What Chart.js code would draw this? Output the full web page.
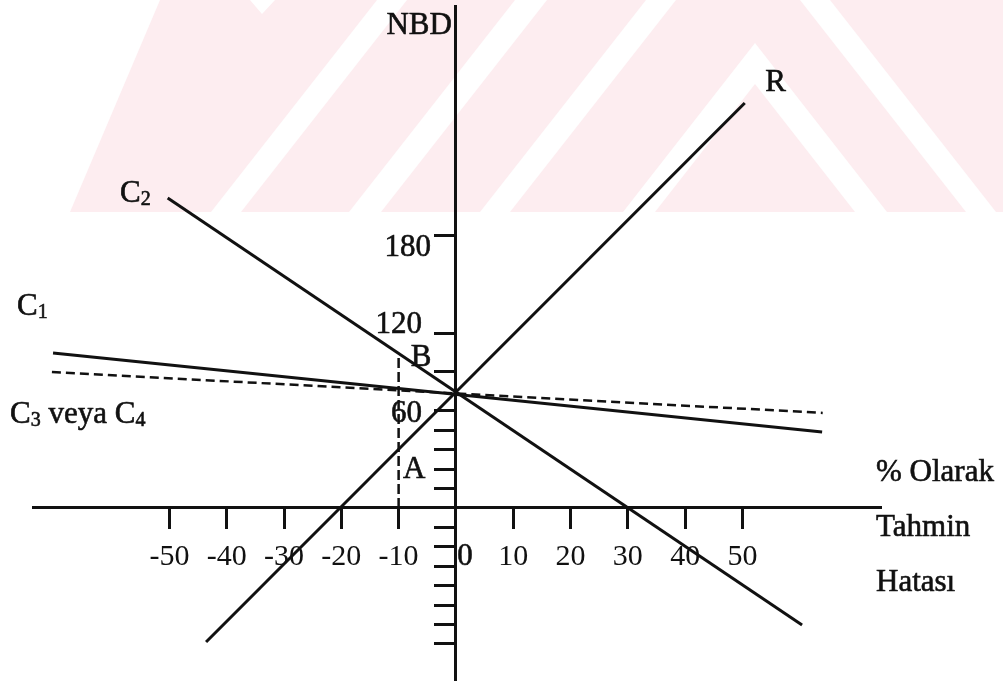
<!DOCTYPE html>
<html>
<head>
<meta charset="utf-8">
<script src="https://cdn.jsdelivr.net/npm/chart.js@4.4.1/dist/chart.umd.min.js"></script>
<style>
html, body { margin: 0; padding: 0; background: #fff; }
#wrap { position: relative; width: 1003px; height: 681px; }
</style>
</head>
<body>
<div id="wrap"><canvas id="chart_nbd"></canvas></div>
<script>
// each line is given by its two end points: x = % tahmin hatası, y = NBD
const rX = [-43.6, 50.4];
const rY = [-88.7, 268.0];
const c2X = [-50.3, 60.4];
const c2Y = [205.2, -77.4];
const c1X = [-70.3, 63.9];
const c1Y = [102.6, 50.3];
const c34X = [-70.5, 64.0];
const c34Y = [90.0, 62.9];
const bX = [-10, -10];
const bY = [0, 102.6];

const xTicks = [-50, -40, -30, -20, -10, 0, 10, 20, 30, 40, 50];
// the NBD axis is not to scale: marks every 180/14 units, labels only at 60, 120, 180
const yStep = 180 / 14;
const yTickSteps = [-7, -6, -5, -4, -3, -2, -1, 1, 2, 3, 4, 5, 7, 9, 14];
const yLabels = ['60', '120', '180'];

const ink = '#111';
const serif = '"Liberation Serif", "Times New Roman", serif';

function pts(xs, ys) {
  return xs.map((x, i) => ({ x: x, y: ys[i] }));
}

function line(label, xs, ys, dash, width) {
  return {
    label: label,
    data: pts(xs, ys),
    showLine: true,
    borderColor: ink,
    borderWidth: width || 3,
    borderDash: dash || [],
    borderCapStyle: 'butt',
    pointRadius: 0,
    pointHoverRadius: 0,
    clip: false
  };
}

// annotation texts, placed in data units (+ small pixel nudge)
const notes = [
  { t: 'NBD', x: 0, y: 319, dx: -4, align: 'right' },
  { t: 'R', x: 55.8, y: 281.3, align: 'center' },
  { t: 'C', sub: '2', x: -58.6, y: 207.8 },
  { t: 'C', sub: '1', x: -76.6, y: 133 },
  { t: 'C', sub: '3', more: ' veya C', sub2: '4', x: -77.8, y: 61.5 },
  { t: yLabels[2], x: 0, y: 180, dx: -25, dy: 12, align: 'right' },
  { t: yLabels[1], x: 0, y: 120, dx: -34, dy: -2, align: 'right' },
  { t: yLabels[0], x: 0, y: 60, dx: -34, dy: -3, align: 'right' },
  { t: 'B', x: -6.1, y: 99.3, align: 'center' },
  { t: 'A', x: -7.3, y: 25.1, align: 'center' },
  { t: '0', x: 0, y: 0, dx: 9, dy: 49, align: 'center' },
  { t: '% Olarak', x: 73.3, y: 23.2 },
  { t: 'Tahmin', x: 73.3, y: -13.2 },
  { t: 'Hatası', x: 73.3, y: -49.6 }
];

const paper = {
  id: 'paper',
  beforeDraw: (chart) => {
    const ctx = chart.ctx;
    const w = chart.width;
    ctx.save();
    ctx.fillStyle = '#fff';
    ctx.fillRect(0, 0, w, chart.height);
    // faint watermark band at the top of the scanned page
    ctx.beginPath();
    ctx.rect(0, 0, w, 212);
    ctx.clip();
    ctx.fillStyle = '#fdedf0';
    ctx.beginPath();
    ctx.moveTo(160, 0); ctx.lineTo(w, 0); ctx.lineTo(w, 212); ctx.lineTo(70, 212);
    ctx.closePath();
    ctx.fill();
    ctx.fillStyle = '#fff';
    const slash = [[377, 30], [515, 32], [646, 30]];
    slash.forEach(s => {
      ctx.beginPath();
      ctx.moveTo(s[0], 0); ctx.lineTo(s[0] + s[1], 0);
      ctx.lineTo(s[0] + s[1] - 166, 212); ctx.lineTo(s[0] - 166, 212);
      ctx.closePath();
      ctx.fill();
    });
    ctx.beginPath();
    ctx.moveTo(800, 0); ctx.lineTo(830, 0); ctx.lineTo(996, 212); ctx.lineTo(966, 212);
    ctx.closePath();
    ctx.fill();
    ctx.beginPath();
    ctx.moveTo(755, 43); ctx.lineTo(887, 212); ctx.lineTo(855, 212);
    ctx.lineTo(755, 84); ctx.lineTo(655, 212); ctx.lineTo(623, 212);
    ctx.closePath();
    ctx.fill();
    ctx.beginPath();
    ctx.moveTo(250, 0); ctx.lineTo(275, 0); ctx.lineTo(262, 14);
    ctx.closePath();
    ctx.fill();
    ctx.restore();
  }
};

const labels = {
  id: 'labels',
  afterDraw: (chart) => {
    const ctx = chart.ctx;
    const xs = chart.scales.x;
    const ys = chart.scales.y;
    ctx.save();
    ctx.fillStyle = ink;
    ctx.strokeStyle = ink;
    ctx.lineWidth = 0.6;
    ctx.textBaseline = 'middle';
    const put = (s, x, y) => {
      ctx.fillText(s, x, y);
      ctx.strokeText(s, x, y);
    };
    notes.forEach(n => {
      let px = xs.getPixelForValue(n.x) + (n.dx || 0);
      const py = ys.getPixelForValue(n.y) + (n.dy || 0);
      ctx.font = '31px ' + serif;
      if (!n.sub) {
        ctx.textAlign = n.align || 'left';
        put(n.t, px, py);
        return;
      }
      ctx.textAlign = 'left';
      const parts = [[n.t, false], [n.sub, true]];
      if (n.more) {
        parts.push([n.more, false], [n.sub2, true]);
      }
      parts.forEach(p => {
        ctx.font = (p[1] ? '20px ' : '31px ') + serif;
        put(p[0], px, py + (p[1] ? 6 : 0));
        px += ctx.measureText(p[0]).width;
      });
    });
    ctx.restore();
  }
};

const chart_nbd = new Chart(document.getElementById('chart_nbd'), {
  type: 'scatter',
  data: {
    datasets: [
      line('R', rX, rY),
      line('C2', c2X, c2Y),
      line('C1', c1X, c1Y),
      line('C3 veya C4', c34X, c34Y, [9, 5], 2.5),
      line('B', bX, bY, [10, 4], 2.5)
    ]
  },
  options: {
    animation: false,
    responsive: true,
    maintainAspectRatio: false,
    events: [],
    layout: {
      padding: { left: 33, right: 123, top: 6, bottom: 0 }
    },
    plugins: {
      legend: { display: false },
      tooltip: { enabled: false }
    },
    scales: {
      x: {
        type: 'linear',
        min: -73.8,
        max: 74,
        position: { y: 0 },
        afterBuildTicks: (scale) => {
          scale.ticks = xTicks.map(v => ({ value: v }));
        },
        grid: {
          drawOnChartArea: false,
          drawTicks: true,
          tickLength: 20,
          lineWidth: 3,
          color: ink
        },
        border: { display: true, width: 3, color: ink },
        ticks: {
          autoSkip: false,
          maxRotation: 0,
          padding: 11,
          color: ink,
          font: { family: serif, size: 30 },
          callback: (v) => (v === 0 ? '' : String(v))
        }
      },
      y: {
        type: 'linear',
        min: -114.5,
        max: 332.2,
        position: { x: 0 },
        afterBuildTicks: (scale) => {
          scale.ticks = yTickSteps.map(k => ({ value: k * yStep }));
        },
        grid: {
          drawOnChartArea: false,
          drawTicks: true,
          tickLength: 20,
          lineWidth: 3,
          color: ink
        },
        border: { display: true, width: 3, color: ink },
        ticks: { display: false }
      }
    }
  },
  plugins: [paper, labels]
});
</script>
</body>
</html>
